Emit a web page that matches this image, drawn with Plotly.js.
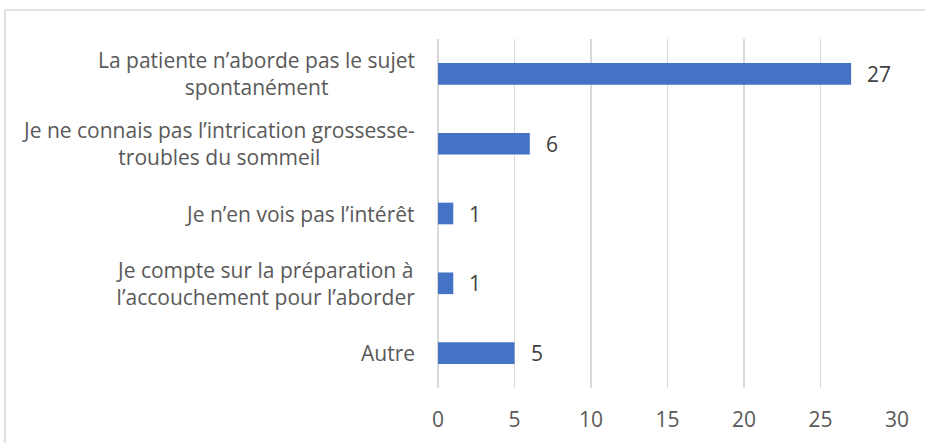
<!DOCTYPE html>
<html>
<head>
<meta charset="utf-8">
<script src="https://cdn.plot.ly/plotly-3.0.1.min.js"></script>
<style>
html,body{margin:0;padding:0;background:#fff;}
#chart{width:925px;height:443px;}
</style>
</head>
<body>
<div id="chart"></div>
<script>
var categories = [
  "La patiente n’aborde pas le sujet<br>spontanément",
  "Je ne connais pas l’intrication grossesse-<br>troubles du sommeil",
  "Je n’en vois pas l’intérêt",
  "Je compte sur la préparation à<br>l’accouchement pour l’aborder",
  "Autre"
];
var values = [27, 6, 1, 1, 5];
var xTicks = [0, 5, 10, 15, 20, 25, 30];

var FONT = "'Open Sans', sans-serif";
var ids = categories.map(function(c, i){ return "c" + i; });

var trace = {
  type: "bar",
  orientation: "h",
  y: ids,
  x: values,
  width: 0.31,
  marker: {color: "#4472C4"},
  hoverinfo: "skip"
};

var annotations = [];
categories.forEach(function(c, i){
  annotations.push({
    xref: "paper", yref: "y", x: 0, y: ids[i],
    xanchor: "right", yanchor: "middle", xshift: -21,
    text: c, align: "center", showarrow: false,
    font: {family: FONT, size: 21, color: "#595959"}
  });
  annotations.push({
    xref: "x", yref: "y", x: values[i], y: ids[i],
    xanchor: "left", yanchor: "middle", xshift: 14,
    text: String(values[i]), showarrow: false,
    font: {family: FONT, size: 21, color: "#404040"}
  });
});

var layout = {
  width: 925, height: 443,
  margin: {l: 438, r: 28, t: 39, b: 55},
  paper_bgcolor: "#fff", plot_bgcolor: "#fff",
  showlegend: false,
  bargap: 0.69,
  xaxis: {
    range: [0, 30],
    tickvals: xTicks,
    ticktext: xTicks.map(String),
    showgrid: true, gridcolor: "#d9d9d9", gridwidth: 1.5,
    zeroline: true, zerolinecolor: "#d9d9d9", zerolinewidth: 1.5,
    showline: false, ticks: "",
    ticklabelstandoff: 17,
    tickfont: {family: FONT, size: 21, color: "#595959"},
    fixedrange: true
  },
  yaxis: {
    type: "category",
    categoryorder: "array",
    categoryarray: ids.slice().reverse(),
    showticklabels: false, showgrid: false, zeroline: false, showline: false,
    ticks: "", fixedrange: true
  },
  annotations: annotations,
  shapes: [{
    type: "path", xref: "paper", yref: "paper",
    path: "M -0.9434,-0.2 L -0.9434,1.0831 L 1.2,1.0831",
    line: {color: "#d9d9d9", width: 1.5}
  }]
};

Plotly.newPlot("chart", [trace], layout, {displayModeBar: false, staticPlot: true});
</script>
</body>
</html>
